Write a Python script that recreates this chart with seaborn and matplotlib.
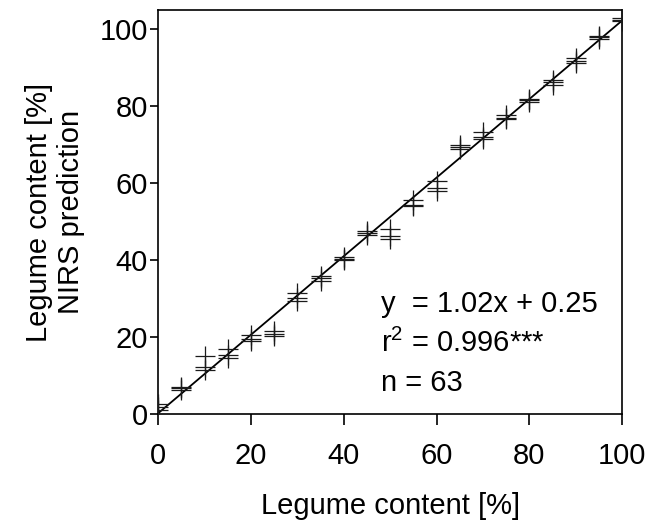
import numpy as np
import pandas as pd
import seaborn as sns
import matplotlib.pyplot as plt

# datos
legume = [0, 5, 10, 15, 20, 25, 30, 35, 40, 45, 50, 55, 60, 65, 70, 75, 80, 85, 90, 95, 100]
rep1 = [2.7, 7.0, 15.0, 17.0, 20.5, 21.5, 31.4, 36.0, 40.8, 47.5, 48.1, 55.7, 60.5, 70.0, 73.3, 77.6, 82.0, 86.8, 92.4, 98.2, 103.0]
rep2 = [1.9, 6.7, 12.2, 15.5, 19.6, 20.8, 30.1, 35.3, 40.1, 47.0, 46.2, 54.4, 58.7, 68.8, 72.1, 77.0, 81.5, 86.2, 91.8, 97.9, 102.5]
rep3 = [1.2, 6.4, 11.6, 14.6, 19.0, 20.2, 29.5, 34.6, 40.4, 46.6, 45.6, 54.0, 57.9, 69.4, 71.6, 76.6, 81.1, 85.6, 91.1, 97.5, 102.1]

# recta de regresion
slope = 1.02
intercept = 0.25
line_x = [0, 100]

df = pd.DataFrame({
    'legume': legume * 3,
    'nirs': rep1 + rep2 + rep3,
})
df_line = pd.DataFrame({'x': line_x, 'y': [slope * v + intercept for v in line_x]})

sns.set_style("ticks")
plt.rcParams['font.family'] = ['Liberation Sans', 'DejaVu Sans']
plt.rcParams['text.color'] = 'black'
plt.rcParams['axes.labelcolor'] = 'black'
plt.rcParams['xtick.color'] = 'black'
plt.rcParams['ytick.color'] = 'black'

fig = plt.figure(figsize=(6.59, 5.25), dpi=100)
ax = fig.add_axes([0.24, 0.211, 0.704, 0.77])

sns.scatterplot(data=df, x='legume', y='nirs', marker='+', color='#1a1a1a',
                s=190, linewidth=0.9, ax=ax, zorder=3)
sns.lineplot(data=df_line, x='x', y='y', color='black', linewidth=1.3, ax=ax)

ax.set_xlim(0, 100)
ax.set_ylim(0, 105)
ax.set_xticks([0, 20, 40, 60, 80, 100])
ax.set_yticks([0, 20, 40, 60, 80, 100])

for s in ax.spines.values():
    s.set_visible(True)
    s.set_linewidth(1.2)
    s.set_color('black')
ax.tick_params(direction='out', width=1.2, labelsize=21)
ax.tick_params(axis='x', length=8, pad=12)
ax.tick_params(axis='y', length=6, pad=1.5)

ax.set_xlabel('Legume content [%]', fontsize=21, labelpad=16)
ax.set_ylabel('Legume content [%]\nNIRS prediction', fontsize=21, labelpad=10, linespacing=1.2)

ax.text(48, 28.5, 'y  = 1.02x + 0.25', fontsize=21, va='center')
ax.text(48, 18.3, r'r$^\mathregular{2}$ = 0.996***', fontsize=21, va='center')
ax.text(48, 8.2, 'n = 63', fontsize=21, va='center')

plt.savefig('out.png', dpi=100)
